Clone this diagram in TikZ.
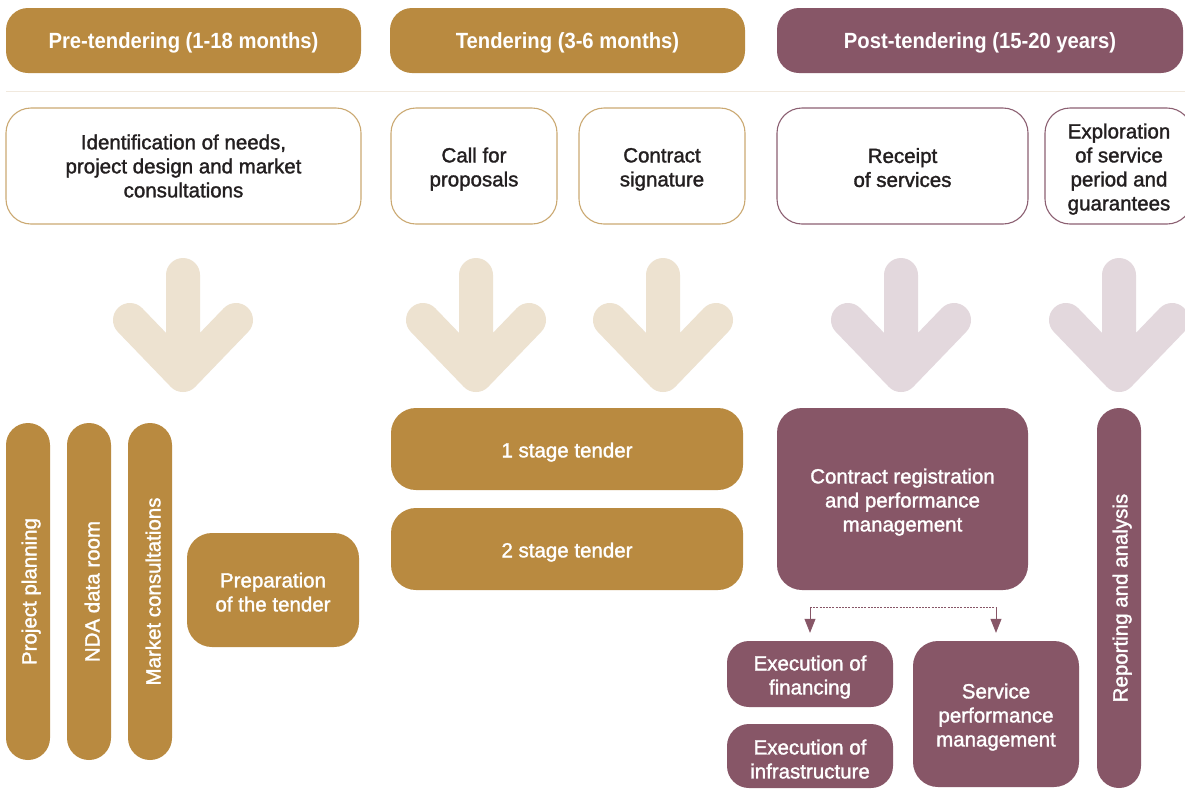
\documentclass[tikz,border=0pt]{standalone}
\usepackage{fontspec}
\setmainfont{Liberation Sans}
\newfontfamily\bodyfont{Liberation Sans}[FakeBold=1.5]
\newfontfamily\headfont{Liberation Sans}[FakeStretch=0.92]
\usetikzlibrary{arrows.meta}
\definecolor{gold}{HTML}{B98A40}
\definecolor{mauve}{HTML}{875667}
\definecolor{goldline}{HTML}{CBA972}
\definecolor{mauveline}{HTML}{8C6072}
\definecolor{goldlight}{HTML}{EDE2D0}
\definecolor{mauvelight}{HTML}{E3D8DD}
\definecolor{septone}{HTML}{F1E9DE}
\definecolor{ink}{HTML}{231F20}
\newcommand\lowr{\rule{0pt}{21pt}}
\begin{document}
\begin{tikzpicture}[x=1pt,y=-1pt,
  head/.style={rounded corners=22pt, fill=#1, text=white, inner sep=0pt,
    font=\headfont\bfseries\fontsize{22}{26}\selectfont,
    execute at begin node=\lowr},
  outline/.style={rounded corners=25pt, draw=#1, line width=1.1pt, fill=white,
    text=ink, align=center, inner sep=0pt,
    font=\bodyfont\fontsize{20.5}{24}\selectfont},
  solid box/.style={rounded corners=25pt, fill=#1, text=white, align=center,
    inner sep=0pt, font=\bodyfont\fontsize{20.5}{24}\selectfont},
  pill/.style={rounded corners=22pt, fill=#1, text=white, inner sep=0pt,
    rotate=90, minimum height=44pt, font=\bodyfont\fontsize{20.5}{24}\selectfont,
    execute at begin node=\lowr},
  bigarrow/.style={draw=#1, line width=34pt, line cap=round, line join=round},
  bracket/.style={draw=mauve, line width=0.7pt, dash pattern=on 2pt off 1.2pt},
  tipline/.style={draw=mauve, line width=0.7pt, -{Triangle[length=14pt,width=11pt]}},
]
\useasboundingbox (0,0) rectangle (1185,788);
\fill[white] (0,0) rectangle (1185,788);

% headers
\node[head=gold, minimum width=355pt, minimum height=65pt] (h1) at (183.5,40.5) {Pre-tendering (1-18 months)};
\node[head=gold, minimum width=355pt, minimum height=65pt] (h2) at (567.5,40.5) {Tendering (3-6 months)};
\node[head=mauve, minimum width=406pt, minimum height=65pt] (h3) at (980,40.5) {Post-tendering (15-20 years)};

\draw[septone, line width=1pt] (6,91) -- (1185,91);

% top outlined boxes
\node[outline=goldline, minimum width=355pt, minimum height=116pt] (idn) at (183.5,166)
  {Identification of needs,\\project design and market\\consultations};
\node[outline=goldline, minimum width=166pt, minimum height=116pt] (cfp) at (474,166)
  {\lowr Call for\\proposals};
\node[outline=goldline, minimum width=166pt, minimum height=116pt] (csg) at (662,166)
  {\lowr Contract\\signature};
\node[outline=mauveline, minimum width=251pt, minimum height=116pt] (ros) at (902.5,166)
  {\rule{0pt}{18pt}Receipt\\of services};
\node[outline=mauveline, minimum width=147pt, minimum height=116pt] (exb) at (1118.5,166) {};
\node[text=ink, align=center, inner sep=0pt, font=\bodyfont\fontsize{20.5}{24}\selectfont] (ext) at (1119,166)
  {\lowr Exploration\\of service\\period and\\guarantees};

% big down arrows
\foreach \cx/\col in {183/goldlight, 476/goldlight, 663/goldlight, 901/mauvelight, 1119/mauvelight}{
  \draw[bigarrow=\col] (\cx,275) -- (\cx,375) (\cx-53,320) -- (\cx,375) -- (\cx+53,320);
}

% pre-tendering bottom
\node[pill=gold, minimum width=337pt] (pp) at (28,591.5) {Project planning};
\node[pill=gold, minimum width=337pt] (nda) at (89,591.5) {NDA data room};
\node[pill=gold, minimum width=337pt] (mc) at (150,591.5) {Market consultations};
\node[solid box=gold, minimum width=172pt, minimum height=114pt] (prep) at (273,590)
  {\rule{0pt}{19pt}Preparation\\of the tender};

% tendering bottom
\node[solid box=gold, minimum width=352pt, minimum height=82pt] (s1) at (567,449) {\lowr 1 stage tender};
\node[solid box=gold, minimum width=352pt, minimum height=82pt] (s2) at (567,549) {\lowr 2 stage tender};

% post-tendering bottom
\node[solid box=mauve, minimum width=251pt, minimum height=182pt] (reg) at (902.5,499)
  {\lowr Contract registration\\and performance\\management};
\node[solid box=mauve, rounded corners=22pt, minimum width=166pt, minimum height=66pt] (fin) at (810,674)
  {\lowr Execution of\\financing};
\node[solid box=mauve, rounded corners=22pt, minimum width=166pt, minimum height=64pt] (inf) at (810,756)
  {\lowr Execution of\\infrastructure};
\node[solid box=mauve, minimum width=166pt, minimum height=146pt] (svc) at (996,714)
  {\lowr Service\\performance\\management};
\node[pill=mauve, minimum width=380pt] (rep) at (1119,598) {Reporting and analysis};

% dotted bracket with arrows
\coordinate (bar) at (0,607);
\draw[bracket] (fin.north |- bar) -- (svc.north |- bar);
\draw[tipline] (fin.north |- bar) -- ([yshift=8pt]fin.north);
\draw[tipline] (svc.north |- bar) -- ([yshift=8pt]svc.north);
\end{tikzpicture}
\end{document}
